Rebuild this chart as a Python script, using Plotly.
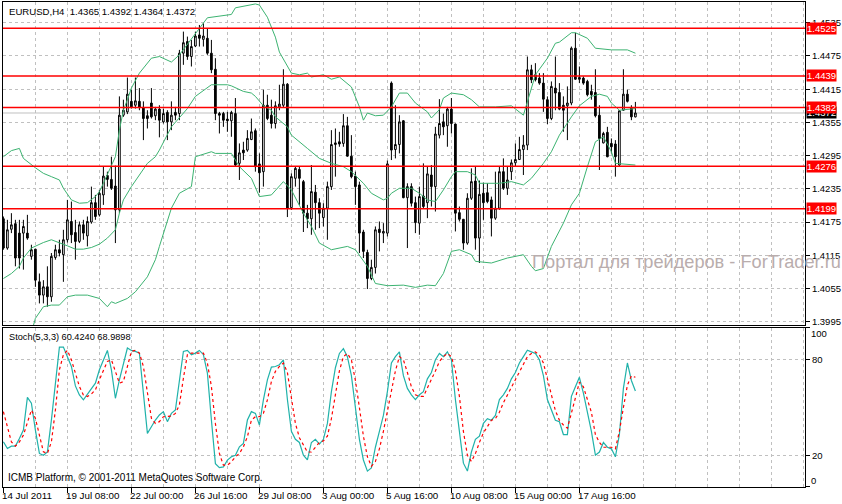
import plotly.graph_objects as go

# ---------------- data ----------------
bars = list(range(159))

opens = [1.4181, 1.4128, 1.4162, 1.4172, 1.4155, 1.4155, 1.4155, 1.4113, 1.4126, 1.4067,
         1.4043, 1.4058, 1.4040, 1.4111, 1.4125, 1.4116, 1.4143, 1.4176, 1.4156, 1.4140,
         1.4170, 1.4150, 1.4175, 1.4210, 1.4188, 1.4224, 1.4259, 1.4252, 1.4240, 1.4197,
         1.4368, 1.4374, 1.4393, 1.4386, 1.4393, 1.4382, 1.4367, 1.4390, 1.4367, 1.4379,
         1.4356, 1.4373, 1.4356, 1.4373, 1.4371, 1.4480, 1.4501, 1.4474, 1.4493, 1.4513,
         1.4505, 1.4507, 1.4480, 1.4451, 1.4371, 1.4371, 1.4361, 1.4358, 1.4371, 1.4281,
         1.4305, 1.4305, 1.4324, 1.4340, 1.4280, 1.4266, 1.4386, 1.4368, 1.4353, 1.4383,
         1.4386, 1.4424, 1.4201, 1.4254, 1.4270, 1.4248, 1.4191, 1.4181, 1.4229, 1.4210,
         1.4183, 1.4200, 1.4239, 1.4315, 1.4320, 1.4317, 1.4349, 1.4294, 1.4258, 1.4242,
         1.4157, 1.4120, 1.4073, 1.4093, 1.4162, 1.4155, 1.4155, 1.4426, 1.4306, 1.4315,
         1.4358, 1.4219, 1.4239, 1.4210, 1.4173, 1.4222, 1.4210, 1.4260, 1.4239, 1.4332,
         1.4356, 1.4349, 1.4379, 1.4352, 1.4192, 1.4180, 1.4137, 1.4218, 1.4249, 1.4146,
         1.4227, 1.4228, 1.4215, 1.4182, 1.4200, 1.4266, 1.4236, 1.4266, 1.4282, 1.4288,
         1.4306, 1.4314, 1.4450, 1.4441, 1.4435, 1.4426, 1.4396, 1.4362, 1.4417, 1.4409,
         1.4386, 1.4385, 1.4390, 1.4489, 1.4436, 1.4435, 1.4429, 1.4411, 1.4409, 1.4368,
         1.4318, 1.4337, 1.4317, 1.4316, 1.4278, 1.4377, 1.4406, 1.4382, 1.4365]
highs = [1.4185, 1.4179, 1.4191, 1.4179, 1.4179, 1.4179, 1.4188, 1.4134, 1.4126, 1.4082,
         1.4070, 1.4095, 1.4119, 1.4134, 1.4143, 1.4161, 1.4215, 1.4212, 1.4179, 1.4176,
         1.4179, 1.4185, 1.4239, 1.4224, 1.4233, 1.4275, 1.4266, 1.4293, 1.4277, 1.4402,
         1.4396, 1.4436, 1.4414, 1.4436, 1.4417, 1.4393, 1.4377, 1.4417, 1.4383, 1.4386,
         1.4380, 1.4377, 1.4393, 1.4383, 1.4486, 1.4519, 1.4510, 1.4504, 1.4519, 1.4531,
         1.4534, 1.4525, 1.4504, 1.4471, 1.4374, 1.4374, 1.4374, 1.4376, 1.4399, 1.4317,
         1.4320, 1.4341, 1.4362, 1.4344, 1.4299, 1.4414, 1.4405, 1.4396, 1.4393, 1.4423,
         1.4451, 1.4426, 1.4263, 1.4275, 1.4275, 1.4251, 1.4206, 1.4278, 1.4242, 1.4218,
         1.4209, 1.4248, 1.4341, 1.4344, 1.4338, 1.4370, 1.4365, 1.4332, 1.4266, 1.4248,
         1.4161, 1.4125, 1.4107, 1.4167, 1.4176, 1.4173, 1.4286, 1.4429, 1.4386, 1.4368,
         1.4359, 1.4245, 1.4245, 1.4221, 1.4239, 1.4281, 1.4275, 1.4278, 1.4347, 1.4397,
         1.4371, 1.4383, 1.4399, 1.4353, 1.4203, 1.4180, 1.4227, 1.4272, 1.4275, 1.4250,
         1.4246, 1.4245, 1.4221, 1.4266, 1.4275, 1.4290, 1.4275, 1.4288, 1.4317, 1.4329,
         1.4332, 1.4474, 1.4459, 1.4462, 1.4444, 1.4444, 1.4402, 1.4429, 1.4474, 1.4426,
         1.4402, 1.4420, 1.4492, 1.4517, 1.4456, 1.4438, 1.4432, 1.4423, 1.4451, 1.4386,
         1.4338, 1.4347, 1.4326, 1.4323, 1.4377, 1.4451, 1.4414, 1.4386, 1.4392]
lows = [1.4125, 1.4125, 1.4155, 1.4095, 1.4091, 1.4089, 1.4143, 1.4107, 1.4058, 1.4028,
        1.4028, 1.4022, 1.4031, 1.4107, 1.4113, 1.4067, 1.4138, 1.4137, 1.4107, 1.4137,
        1.4143, 1.4131, 1.4172, 1.4179, 1.4185, 1.4206, 1.4239, 1.4233, 1.4137, 1.4191,
        1.4365, 1.4370, 1.4380, 1.4380, 1.4377, 1.4323, 1.4344, 1.4362, 1.4359, 1.4328,
        1.4353, 1.4323, 1.4341, 1.4359, 1.4359, 1.4459, 1.4468, 1.4456, 1.4491, 1.4492,
        1.4492, 1.4477, 1.4444, 1.4359, 1.4335, 1.4347, 1.4338, 1.4329, 1.4275, 1.4251,
        1.4287, 1.4302, 1.4323, 1.4266, 1.4228, 1.4239, 1.4359, 1.4344, 1.4344, 1.4377,
        1.4382, 1.4184, 1.4197, 1.4239, 1.4206, 1.4157, 1.4164, 1.4152, 1.4161, 1.4164,
        1.4167, 1.4143, 1.4233, 1.4257, 1.4311, 1.4311, 1.4293, 1.4254, 1.4206, 1.4119,
        1.4110, 1.4054, 1.4070, 1.4082, 1.4122, 1.4137, 1.4149, 1.4287, 1.4290, 1.4299,
        1.4218, 1.4128, 1.4203, 1.4155, 1.4152, 1.4200, 1.4182, 1.4203, 1.4194, 1.4326,
        1.4332, 1.4311, 1.4335, 1.4158, 1.4176, 1.4125, 1.4134, 1.4215, 1.4125, 1.4101,
        1.4179, 1.4209, 1.4149, 1.4179, 1.4197, 1.4233, 1.4224, 1.4251, 1.4275, 1.4287,
        1.4260, 1.4305, 1.4426, 1.4429, 1.4423, 1.4374, 1.4352, 1.4359, 1.4377, 1.4377,
        1.4338, 1.4323, 1.4386, 1.4432, 1.4426, 1.4423, 1.4402, 1.4396, 1.4364, 1.4269,
        1.4317, 1.4292, 1.4299, 1.4257, 1.4275, 1.4376, 1.4391, 1.4359, 1.4364]
closes = [1.4128, 1.4161, 1.4170, 1.4110, 1.4110, 1.4167, 1.4146, 1.4125, 1.4070, 1.4043,
          1.4058, 1.4040, 1.4113, 1.4125, 1.4119, 1.4143, 1.4179, 1.4152, 1.4140, 1.4170,
          1.4155, 1.4176, 1.4210, 1.4185, 1.4227, 1.4258, 1.4252, 1.4236, 1.4197, 1.4368,
          1.4377, 1.4406, 1.4383, 1.4394, 1.4382, 1.4362, 1.4362, 1.4365, 1.4379, 1.4359,
          1.4371, 1.4356, 1.4368, 1.4368, 1.4480, 1.4499, 1.4474, 1.4492, 1.4511, 1.4507,
          1.4511, 1.4480, 1.4450, 1.4371, 1.4368, 1.4359, 1.4358, 1.4373, 1.4278, 1.4300,
          1.4300, 1.4326, 1.4338, 1.4275, 1.4264, 1.4386, 1.4362, 1.4353, 1.4385, 1.4388,
          1.4424, 1.4200, 1.4257, 1.4272, 1.4254, 1.4191, 1.4181, 1.4230, 1.4210, 1.4191,
          1.4200, 1.4239, 1.4315, 1.4318, 1.4316, 1.4349, 1.4294, 1.4257, 1.4239, 1.4155,
          1.4122, 1.4073, 1.4093, 1.4161, 1.4156, 1.4158, 1.4280, 1.4305, 1.4315, 1.4356,
          1.4219, 1.4239, 1.4209, 1.4174, 1.4221, 1.4203, 1.4262, 1.4239, 1.4334, 1.4353,
          1.4347, 1.4379, 1.4353, 1.4191, 1.4180, 1.4137, 1.4218, 1.4248, 1.4146, 1.4225,
          1.4210, 1.4212, 1.4182, 1.4200, 1.4266, 1.4236, 1.4251, 1.4282, 1.4288, 1.4306,
          1.4314, 1.4450, 1.4432, 1.4432, 1.4426, 1.4397, 1.4362, 1.4420, 1.4408, 1.4379,
          1.4377, 1.4390, 1.4489, 1.4433, 1.4433, 1.4426, 1.4405, 1.4405, 1.4367, 1.4326,
          1.4335, 1.4293, 1.4311, 1.4293, 1.4376, 1.4406, 1.4393, 1.4365, 1.4372]

# Bollinger Bands (read at the bars where they were legible)
bb_upper_x = [0, 2, 4, 5, 8, 10, 12, 14, 15, 17, 19, 21, 23, 24, 25, 26, 27, 28, 29, 30,
              31, 32, 34, 36, 37, 39, 42, 44, 47, 50, 51, 57, 58, 63, 64, 66, 68, 69, 71, 72,
              74, 76, 77, 80, 82, 84, 87, 89, 90, 91, 93, 95, 97, 99, 101, 103, 106, 107, 109, 110,
              112, 115, 117, 119, 123, 127, 130, 131, 133, 136, 138, 139, 142, 143, 146, 148, 152, 156, 158]
bb_upper = [1.4293, 1.4304, 1.4308, 1.4290, 1.4273, 1.4263, 1.4257, 1.4251, 1.4236, 1.4215,
            1.4209, 1.4210, 1.4221, 1.4230, 1.4245, 1.4260, 1.4275, 1.4293, 1.4341, 1.4377,
            1.4396, 1.4417, 1.4444, 1.4462, 1.4471, 1.4474, 1.4464, 1.4477, 1.4505, 1.4535,
            1.4544, 1.4550, 1.4562, 1.4569, 1.4567, 1.4545, 1.4509, 1.4482, 1.4458, 1.4444,
            1.4441, 1.4444, 1.4437, 1.4441, 1.4433, 1.4437, 1.4419, 1.4383, 1.4359, 1.4372,
            1.4367, 1.4368, 1.4383, 1.4408, 1.4408, 1.4390, 1.4374, 1.4363, 1.4378, 1.4399,
            1.4408, 1.4405, 1.4396, 1.4383, 1.4383, 1.4385, 1.4368, 1.4392, 1.4441, 1.4471,
            1.4498, 1.4500, 1.4517, 1.4517, 1.4507, 1.4489, 1.4486, 1.4486, 1.4480]
bb_mid_x = [0, 2, 4, 5, 7, 10, 12, 14, 16, 18, 20, 22, 24, 26, 28, 29, 30, 32, 34, 36,
            38, 39, 42, 46, 48, 52, 56, 57, 60, 62, 63, 65, 67, 68, 71, 72, 76, 78, 79, 82,
            85, 87, 90, 92, 95, 96, 97, 99, 102, 104, 106, 108, 110, 112, 113, 116, 118, 119, 124, 127,
            130, 132, 135, 137, 139, 142, 144, 147, 149, 151, 152, 154, 156, 158]
bb_mid = [1.4073, 1.4082, 1.4095, 1.4110, 1.4128, 1.4138, 1.4143, 1.4138, 1.4132, 1.4126,
          1.4126, 1.4129, 1.4135, 1.4146, 1.4161, 1.4191, 1.4215, 1.4239, 1.4260, 1.4281,
          1.4293, 1.4305, 1.4347, 1.4380, 1.4402, 1.4423, 1.4423, 1.4421, 1.4411, 1.4408,
          1.4402, 1.4385, 1.4377, 1.4365, 1.4347, 1.4332, 1.4308, 1.4296, 1.4290, 1.4281,
          1.4275, 1.4266, 1.4245, 1.4227, 1.4215, 1.4218, 1.4227, 1.4236, 1.4236, 1.4227,
          1.4215, 1.4212, 1.4233, 1.4257, 1.4266, 1.4266, 1.4260, 1.4245, 1.4245, 1.4248,
          1.4242, 1.4254, 1.4281, 1.4302, 1.4332, 1.4365, 1.4385, 1.4402, 1.4406, 1.4402,
          1.4390, 1.4377, 1.4379, 1.4380]
bb_lower_x = [7, 8, 10, 12, 14, 16, 18, 21, 24, 26, 27, 28, 31, 33, 36, 38, 39, 42, 44, 47,
              48, 52, 53, 57, 59, 62, 64, 67, 70, 72, 75, 77, 79, 82, 86, 88, 91, 93, 96, 100,
              103, 106, 108, 110, 112, 114, 117, 118, 122, 126, 130, 132, 133, 135, 137, 140, 142, 144, 146, 148,
              150, 152, 153, 156, 158]
bb_lower = [1.3975, 1.4001, 1.4022, 1.4025, 1.4025, 1.4040, 1.4043, 1.4043, 1.4037, 1.4022,
            1.4031, 1.4028, 1.4037, 1.4049, 1.4076, 1.4107, 1.4131, 1.4200, 1.4227, 1.4239,
            1.4293, 1.4302, 1.4299, 1.4299, 1.4275, 1.4254, 1.4221, 1.4224, 1.4248, 1.4233,
            1.4191, 1.4167, 1.4137, 1.4125, 1.4131, 1.4125, 1.4095, 1.4064, 1.4060, 1.4061,
            1.4057, 1.4061, 1.4060, 1.4082, 1.4122, 1.4125, 1.4116, 1.4104, 1.4101, 1.4110,
            1.4116, 1.4095, 1.4087, 1.4091, 1.4131, 1.4173, 1.4206, 1.4227, 1.4275, 1.4320,
            1.4329, 1.4302, 1.4281, 1.4280, 1.4278]

# Stochastic(5,3,3)
stoch_main = [28.4, 24.2, 25.7, 25.7, 30.5, 35.8, 56.4, 52.7, 35.8, 21.1,
              20.0, 22.1, 42.1, 63.2, 88.0, 88.0, 82.1, 75.8, 63.6, 57.9,
              54.8, 58.5, 62.1, 65.3, 73.7, 80.0, 85.9, 73.7, 55.8, 67.4,
              77.9, 87.4, 85.9, 85.3, 84.2, 59.0, 33.7, 37.9, 42.1, 45.3,
              47.4, 41.1, 46.3, 48.4, 68.4, 85.3, 85.9, 83.2, 84.2, 85.9,
              83.2, 71.6, 42.1, 14.7, 12.2, 12.6, 16.9, 19.0, 20.0, 25.3,
              27.4, 42.1, 47.4, 46.3, 39.0, 54.8, 67.4, 75.4, 75.8, 76.9,
              80.0, 55.0, 35.0, 30.0, 28.0, 20.0, 17.0, 28.0, 30.0, 27.0,
              30.0, 40.0, 60.0, 75.0, 84.0, 87.0, 82.0, 70.0, 50.0, 30.0,
              17.0, 10.0, 12.0, 25.0, 35.0, 45.0, 60.0, 78.0, 82.0, 85.0,
              70.0, 62.0, 58.0, 55.0, 58.0, 60.0, 68.0, 72.0, 80.0, 84.0,
              82.0, 85.0, 80.0, 55.0, 35.0, 15.0, 10.0, 22.0, 30.0, 32.0,
              40.0, 43.0, 42.0, 45.0, 55.0, 58.0, 62.0, 68.0, 72.0, 78.0,
              82.0, 86.0, 85.0, 84.0, 80.0, 70.0, 55.0, 48.0, 42.0, 41.0,
              33.0, 33.0, 57.0, 63.0, 69.0, 59.0, 47.0, 35.0, 20.0, 22.0,
              28.0, 25.0, 24.0, 19.0, 33.0, 62.0, 78.0, 67.0, 60.424]
stoch_signal = [47.4, 37.9, 28.4, 25.7, 28.4, 32.6, 40.0, 48.4, 43.2, 31.6,
                22.1, 21.1, 28.4, 48.4, 73.7, 83.2, 85.9, 80.0, 71.6, 63.2,
                57.9, 56.9, 58.5, 61.1, 67.4, 73.7, 79.0, 80.0, 72.7, 65.3,
                66.3, 75.8, 85.3, 85.9, 84.2, 75.8, 59.0, 43.2, 40.0, 41.1,
                44.2, 44.2, 44.6, 46.3, 51.6, 68.4, 83.2, 84.2, 84.2, 84.2,
                84.2, 77.9, 63.2, 40.0, 21.1, 13.7, 13.7, 15.8, 19.0, 21.1,
                25.3, 31.6, 42.1, 44.2, 44.2, 46.3, 54.8, 66.3, 72.7, 75.8,
                78.0, 72.0, 57.0, 40.0, 31.0, 26.0, 22.0, 22.0, 25.0, 28.0,
                29.0, 32.0, 43.0, 58.0, 73.0, 82.0, 84.0, 80.0, 67.0, 50.0,
                32.0, 19.0, 13.0, 16.0, 24.0, 35.0, 47.0, 61.0, 73.0, 82.0,
                80.0, 72.0, 63.0, 58.0, 57.0, 57.0, 62.0, 67.0, 73.0, 79.0,
                82.0, 84.0, 82.0, 73.0, 57.0, 35.0, 20.0, 16.0, 21.0, 28.0,
                34.0, 38.0, 42.0, 43.0, 47.0, 53.0, 58.0, 63.0, 67.0, 73.0,
                77.0, 82.0, 84.0, 85.0, 83.0, 78.0, 68.0, 58.0, 48.0, 42.0,
                39.0, 37.0, 46.0, 56.0, 66.0, 63.0, 55.0, 47.0, 33.0, 28.0,
                25.0, 25.0, 25.0, 24.0, 35.0, 50.0, 64.0, 70.0, 68.9898]

level_lines = [1.4525, 1.4439, 1.4382, 1.4276, 1.4199]
bid_price = 1.4372
price_ticks = [1.3995, 1.4055, 1.4115, 1.4175, 1.4235, 1.4295, 1.4355, 1.4415, 1.4475, 1.4535]
time_tick_bars = [0, 16, 32, 48, 64, 80, 96, 112, 128, 144]
time_tick_labels = ["14 Jul 2011", "19 Jul 08:00", "22 Jul 00:00", "26 Jul 16:00", "29 Jul 08:00",
                    "3 Aug 00:00", "5 Aug 16:00", "10 Aug 08:00", "15 Aug 00:00", "17 Aug 16:00"]
stoch_ticks = [0, 20, 80, 100]
title_text = "EURUSD,H4 \u00a01.4365 1.4392 1.4364 1.4372"
stoch_text = "Stoch(5,3,3) 60.4240 68.9898"
copyright_text = "ICMB Platform, © 2001-2011 MetaQuotes Software Corp."
watermark_text = "Портал для трейдеров - ForTrader.ru"

# ---------------- figure ----------------
FONT = "Liberation Sans, Arial, sans-serif"
GRID = "#C0C0C0"
BB = "#3CB371"
FS = 9.5   # general small text size

fig = go.Figure()
fig.add_trace(go.Candlestick(
    x=bars, open=opens, high=highs, low=lows, close=closes,
    increasing=dict(line=dict(color="black", width=1), fillcolor="white"),
    decreasing=dict(line=dict(color="black", width=1), fillcolor="black"),
    whiskerwidth=0, xaxis="x", yaxis="y", hoverinfo="skip"))
for bx, by in [(bb_upper_x, bb_upper), (bb_mid_x, bb_mid), (bb_lower_x, bb_lower)]:
    fig.add_trace(go.Scatter(x=bx, y=by, mode="lines", line=dict(color=BB, width=1),
                             xaxis="x", yaxis="y", hoverinfo="skip"))
fig.add_trace(go.Scatter(x=bars, y=stoch_main, mode="lines",
                         line=dict(color="#20B2AA", width=1.2), xaxis="x2", yaxis="y2", hoverinfo="skip"))
fig.add_trace(go.Scatter(x=bars, y=stoch_signal, mode="lines",
                         line=dict(color="#FF0000", width=1.2, dash="dot"), xaxis="x2", yaxis="y2", hoverinfo="skip"))

grid_minor = dict(tickmode="linear", tick0=0, dtick=8, showgrid=True, gridcolor=GRID,
                  griddash="3px,3px", gridwidth=1, ticks="")
common_x = dict(range=[-0.1, 200.4], tickmode="array", tickvals=time_tick_bars,
                showgrid=True, gridcolor=GRID, griddash="3px,3px", gridwidth=1,
                minor=grid_minor, showline=True, mirror=True, linecolor="black", linewidth=1,
                zeroline=False, showticklabels=False, fixedrange=True)

fig.update_layout(
    width=842, height=504,
    margin=dict(l=3, r=37, t=2, b=17),
    paper_bgcolor="white", plot_bgcolor="white",
    showlegend=False, hovermode=False, boxgap=0.4,
    font=dict(family=FONT, size=FS, color="black"),
    xaxis=dict(domain=[0, 1], anchor="y", ticks="", rangeslider=dict(visible=False), **common_x),
    xaxis2=dict(domain=[0, 1], anchor="y2", matches="x", ticks="outside", ticklen=5,
                tickcolor="black", **common_x),
    yaxis=dict(domain=[0.33402, 1], range=[1.39890, 1.45725], side="right",
               tickmode="array", tickvals=price_ticks, ticktext=[f"{v:.4f}" for v in price_ticks],
               ticks="outside", ticklen=4, tickcolor="black",
               showgrid=True, gridcolor=GRID, griddash="3px,3px", gridwidth=1,
               showline=True, mirror=True, linecolor="black", linewidth=1, zeroline=False,
               tickfont=dict(family=FONT, size=FS, color="black"), fixedrange=True),
    yaxis2=dict(domain=[0, 0.32784], range=[0, 100], side="right",
                tickmode="array", tickvals=stoch_ticks, ticktext=["", "20", "80", ""],
                ticks="outside", ticklen=4, tickcolor="black",
                showgrid=True, gridcolor=GRID, griddash="3px,3px", gridwidth=1,
                showline=True, mirror=True, linecolor="black", linewidth=1, zeroline=False,
                tickfont=dict(family=FONT, size=FS, color="black"), fixedrange=True),
)

shapes = [dict(type="line", xref="paper", x0=0, x1=1, yref="y", y0=bid_price, y1=bid_price,
               line=dict(color="#C0C0C0", width=1), layer="below")]
for lv in level_lines:
    shapes.append(dict(type="line", xref="paper", x0=0, x1=1, yref="y", y0=lv, y1=lv,
                       line=dict(color="#FF0000", width=1.5), layer="above"))
fig.update_layout(shapes=shapes)

ann = []
# price-level labels on the right axis
ann.append(dict(x=1, xref="paper", y=bid_price, yref="y", text=f"{bid_price:.4f}", showarrow=False,
                xanchor="left", yanchor="middle", xshift=1, bgcolor="black", borderpad=0,
                font=dict(family=FONT, size=FS, color="white")))
for lv in level_lines:
    ann.append(dict(x=1, xref="paper", y=lv, yref="y", text=f"{lv:.4f}", showarrow=False,
                    xanchor="left", yanchor="middle", xshift=1, bgcolor="#FF0000", borderpad=0,
                    font=dict(family=FONT, size=FS, color="white")))
# stochastic scale ends
ann.append(dict(x=1, xref="paper", y=0.3155, yref="paper", text="100", showarrow=False,
                xanchor="left", yanchor="middle", xshift=4, font=dict(family=FONT, size=FS)))
ann.append(dict(x=1, xref="paper", y=0.0144, yref="paper", text="0", showarrow=False,
                xanchor="left", yanchor="middle", xshift=4, font=dict(family=FONT, size=FS)))
# time labels
for b, t in zip(time_tick_bars, time_tick_labels):
    ann.append(dict(x=b, xref="x2", y=-0.0165, yref="paper", text=t, showarrow=False,
                    xanchor="left", yanchor="middle", xshift=-3, font=dict(family=FONT, size=9.8)))
# texts
ann.append(dict(x=0.005, xref="paper", y=0.9814, yref="paper", text=title_text, showarrow=False,
                xanchor="left", yanchor="middle", font=dict(family=FONT, size=9.6)))
ann.append(dict(x=0.005, xref="paper", y=0.3093, yref="paper", text=stoch_text, showarrow=False,
                xanchor="left", yanchor="middle", font=dict(family=FONT, size=9.2)))
ann.append(dict(x=0.004, xref="paper", y=0.0186, yref="paper", text=copyright_text, showarrow=False,
                xanchor="left", yanchor="middle", font=dict(family=FONT, size=10)))
ann.append(dict(x=0.6571, xref="paper", y=0.4639, yref="paper", text=watermark_text, showarrow=False,
                xanchor="left", yanchor="middle",
                font=dict(family=FONT, size=18.2, color="#B9ADAD")))
fig.update_layout(annotations=ann)

fig.write_html("out.html", config={"displayModeBar": False, "staticPlot": True},
               post_script="document.body.style.margin='0px';document.body.style.overflow='hidden';")
